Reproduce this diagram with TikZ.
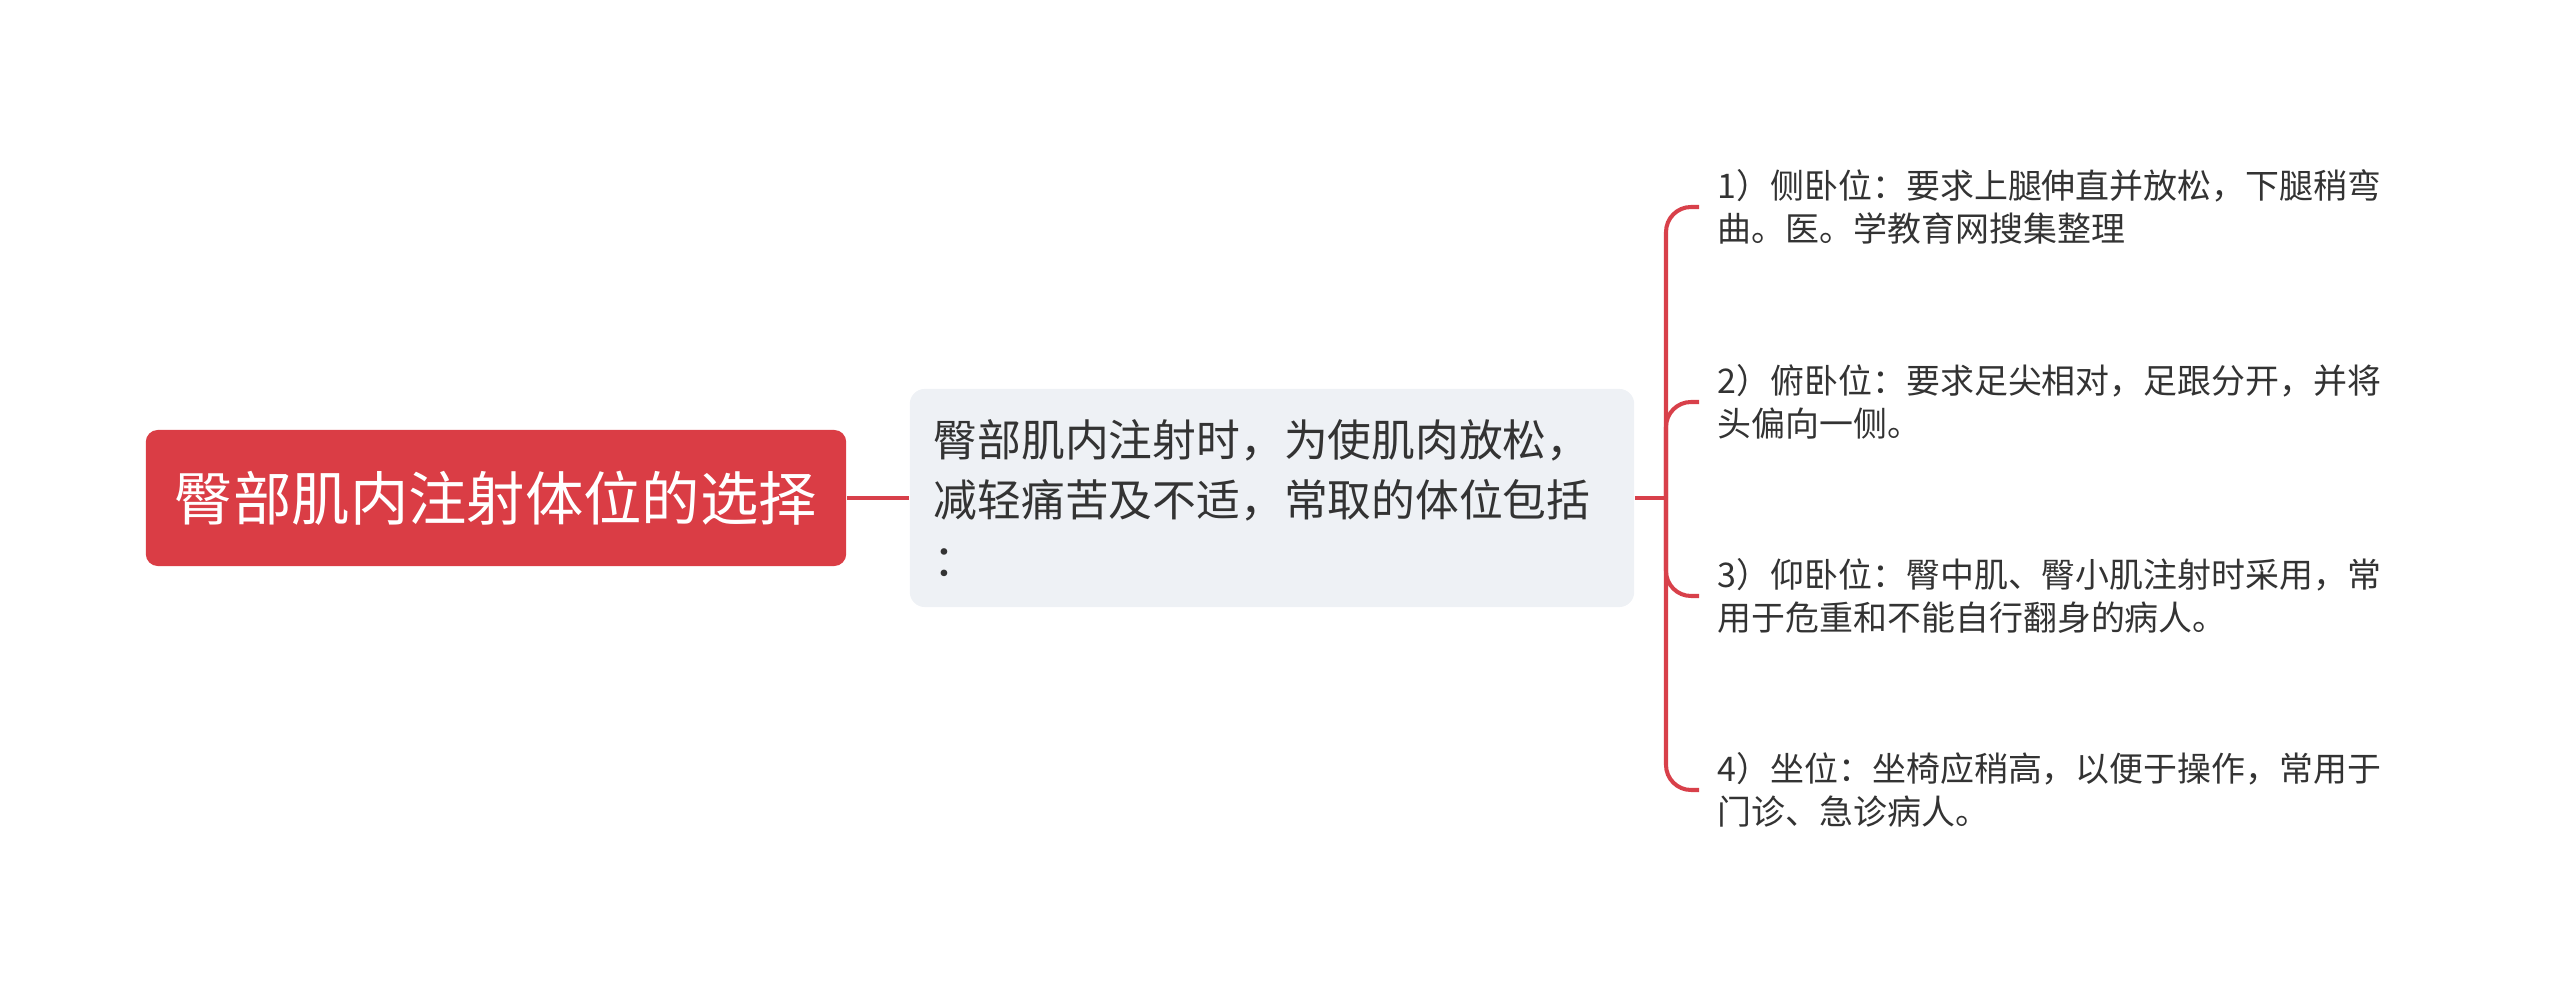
\documentclass[tikz,border=0pt]{standalone}
\usepackage{fontspec}
\setmainfont{Noto Sans CJK SC}
\definecolor{rootred}{HTML}{DA3D45}
\definecolor{linered}{HTML}{D8404A}
\definecolor{midgray}{HTML}{EEF1F5}
\definecolor{txtgray}{HTML}{333333}
\begin{document}
\begin{tikzpicture}[x=0.01cm, y=-0.01cm,
  leaf/.style={anchor=west,inner xsep=0.18cm,inner ysep=0pt,align=left,text=txtgray,font=\fontsize{9.65}{12.3}\selectfont},
  branch/.style={draw=linered,line width=1.15pt,rounded corners=0.25cm}]
  \useasboundingbox (0,0) rectangle (2560,998);
  \node[fill=rootred,rounded corners=0.12cm,minimum width=7cm,minimum height=1.36cm,text=white,font=\fontsize{16.6}{20}\selectfont] (root) at (496,498) {臀部肌内注射体位的选择};
  \node[fill=midgray,rounded corners=0.15cm,text width=6.76cm,inner xsep=0.24cm,minimum height=2.18cm,align=left,text=txtgray,font=\fontsize{12.45}{17.1}\selectfont] (mid) at (1272,498) {臀部肌内注射时，为使肌肉放松，\\减轻痛苦及不适，常取的体位包括\\：};
  \draw[branch] (root) -- (mid);
  % leaves
  \node[leaf] (side) at (1699,207) {1）侧卧位：要求上腿伸直并放松，下腿稍弯\\曲。医。学教育网搜集整理};
  \node[leaf] (prone) at (1699,402) {2）俯卧位：要求足尖相对，足跟分开，并将\\头偏向一侧。};
  \node[leaf] (supine) at (1699,596) {3）仰卧位：臀中肌、臀小肌注射时采用，常\\用于危重和不能自行翻身的病人。};
  \node[leaf] (sit) at (1699,790) {4）坐位：坐椅应稍高，以便于操作，常用于\\门诊、急诊病人。};
  \coordinate (fork) at (1666,498);
  \draw[branch] (mid.east) -- (fork);
  \draw[branch] (fork) |- (side.west);
  \draw[branch] (fork) |- (prone.west);
  \draw[branch] (fork) |- (supine.west);
  \draw[branch] (fork) |- (sit.west);
\end{tikzpicture}
\end{document}
